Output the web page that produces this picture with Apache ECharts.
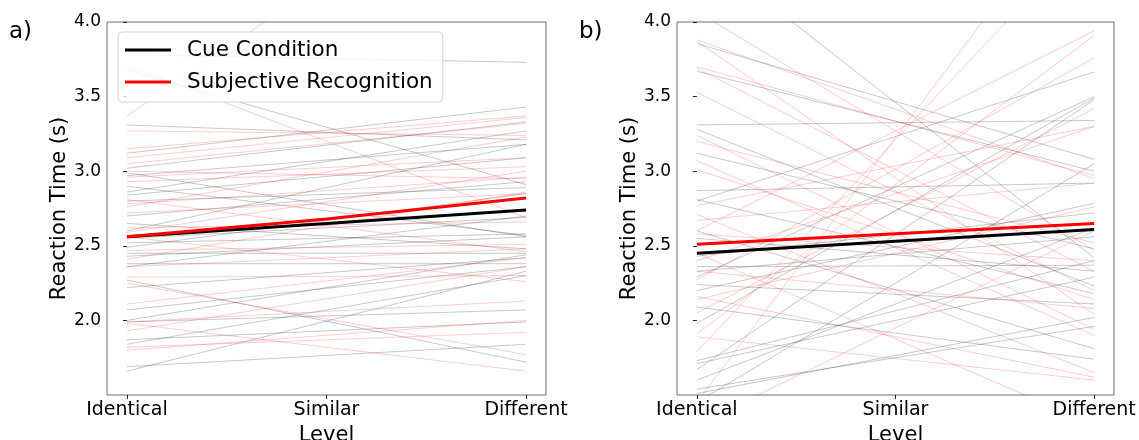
<!DOCTYPE html>
<html>
<head>
<meta charset="utf-8">
<title>Reaction time by level</title>
<script src="https://cdn.jsdelivr.net/npm/echarts@6/dist/echarts.min.js"></script>
<style>
  html, body { margin: 0; padding: 0; background: #fff; }
  #chart { width: 1139px; height: 440px; }
</style>
</head>
<body>
<div id="chart"></div>
<script>
const levels = ['Identical', 'Similar', 'Different']
const levelPos = [0, 1, 2]
const yTicks = [2.0, 2.5, 3.0, 3.5, 4.0]

// per-subject fitted lines, [Identical, Different]
const cueA = [
  [3.78, 3.73], [3.68, 2.91], [3.31, 3.21], [3.12, 3.43], [3.02, 3.33], [2.99, 2.56],
  [2.97, 3.18], [2.86, 3.27], [2.84, 3.09], [2.80, 2.89], [2.70, 2.93], [2.65, 2.48],
  [2.60, 3.18], [2.55, 2.69], [2.52, 2.58], [2.49, 2.85], [2.45, 2.45], [2.43, 2.56],
  [2.38, 2.38], [2.36, 2.70], [2.27, 1.72], [2.22, 2.42], [2.07, 2.36], [2.00, 2.44],
  [1.99, 2.07], [1.87, 1.99], [1.84, 2.30], [1.69, 1.84], [1.66, 2.33], [2.90, 2.57]
]
const subjA = [
  [3.37, 5.20], [3.71, 2.69], [3.27, 3.24], [3.15, 3.37], [3.09, 3.36], [3.05, 3.32],
  [3.00, 2.95], [2.96, 3.09], [2.93, 3.03], [2.81, 2.46], [2.78, 2.96], [2.76, 3.23],
  [2.72, 2.85], [2.62, 2.66], [2.59, 3.00], [2.56, 2.26], [2.47, 2.51], [2.41, 2.86],
  [2.36, 2.48], [2.29, 2.30], [2.25, 1.77], [2.11, 2.42], [1.99, 2.13], [1.98, 1.66],
  [1.93, 2.36], [1.82, 1.92], [1.80, 2.00]
]
const cueB = [
  [4.50, 2.42], [3.855, 3.08], [3.67, 3.00], [3.31, 3.34], [3.28, 2.23], [3.12, 2.48],
  [2.87, 2.92], [2.81, 2.18], [2.80, 3.665], [2.60, 1.81], [2.55, 2.33], [2.43, 2.72],
  [2.36, 2.37], [2.33, 2.56], [2.29, 3.50], [2.24, 2.11], [2.20, 2.785], [2.09, 1.74],
  [1.98, 3.49], [1.73, 2.40], [1.71, 2.29], [1.67, 3.48], [1.60, 2.62], [1.54, 1.96],
  [1.51, 2.02], [1.45, 3.05]
]
const subjB = [
  [4.07, 2.47], [3.88, 2.95], [3.87, 2.04], [3.70, 2.97], [3.69, 2.33], [3.53, 2.20],
  [3.24, 1.94], [3.20, 2.52], [3.07, 1.90], [3.01, 2.14], [2.77, 3.30], [2.71, 1.65],
  [2.67, 2.92], [2.60, 3.94], [2.58, 2.40], [2.45, 1.30], [2.40, 3.30], [2.33, 2.08],
  [2.27, 3.76], [2.16, 1.62], [2.14, 2.76], [2.05, 3.42], [1.91, 3.91], [1.89, 1.60],
  [1.79, 4.63], [1.45, 5.00], [1.30, 2.60]
]

// group means at the three levels
const cueMeanA = [2.56, 2.65, 2.74]
const subjMeanA = [2.56, 2.68, 2.82]
const cueMeanB = [2.45, 2.53, 2.61]
const subjMeanB = [2.51, 2.58, 2.65]

const font = 'DejaVu Sans'
const gray = 'rgba(0,0,0,0.22)'
const pink = 'rgba(255,0,0,0.2)'

function subjectLines (list, color, idx) {
  return list.map(function (d) {
    return {
      type: 'line',
      xAxisIndex: idx,
      yAxisIndex: idx,
      data: [[levelPos[0], d[0]], [levelPos[2], d[1]]],
      symbol: 'none',
      silent: true,
      z: 1,
      lineStyle: { color: color, width: 1 }
    }
  })
}

function meanLine (name, vals, color, idx, z) {
  return {
    name: name,
    type: 'line',
    xAxisIndex: idx,
    yAxisIndex: idx,
    data: vals.map(function (v, i) { return [levelPos[i], v] }),
    symbol: 'none',
    silent: true,
    z: z,
    itemStyle: { color: color },
    lineStyle: { color: color, width: 3 }
  }
}

function grid (left, width) {
  return {
    left: left, top: 22, width: width, height: 373,
    outerBoundsMode: 'none',
    show: true, borderColor: '#6f6f6f', borderWidth: 1
  }
}

function xAxis (idx) {
  return {
    type: 'value',
    gridIndex: idx,
    min: -0.1,
    max: 2.1,
    name: 'Level',
    nameLocation: 'middle',
    nameGap: 21,
    nameTextStyle: { fontSize: 21, fontFamily: font, color: '#000' },
    axisLine: { show: false },
    splitLine: { show: false },
    axisTick: { customValues: levelPos, length: 4, lineStyle: { color: '#222' } },
    axisLabel: {
      customValues: levelPos,
      formatter: function (v) { return levels[v] },
      fontSize: 19, fontFamily: font, color: '#000', margin: 6
    }
  }
}

function yAxis (idx) {
  return {
    type: 'value',
    gridIndex: idx,
    min: 1.5,
    max: 4.0,
    name: 'Reaction Time (s)',
    nameLocation: 'middle',
    nameGap: 36,
    nameTextStyle: { fontSize: 21, fontFamily: font, color: '#000' },
    axisLine: { show: false },
    splitLine: { show: false },
    axisTick: { customValues: yTicks, length: 4, lineStyle: { color: '#222' } },
    axisLabel: {
      customValues: yTicks,
      formatter: function (v) { return v.toFixed(1) },
      fontSize: 17, fontFamily: font, color: '#000', margin: 6
    }
  }
}

const option = {
  animation: false,
  grid: [grid(107, 439), grid(677, 437)],
  xAxis: [xAxis(0), xAxis(1)],
  yAxis: [yAxis(0), yAxis(1)],
  legend: {
    data: ['Cue Condition', 'Subjective Recognition'],
    orient: 'vertical',
    left: 118,
    top: 32,
    icon: 'rect',
    itemWidth: 46,
    itemHeight: 3,
    itemGap: 10,
    padding: [7, 10, 9, 7],
    backgroundColor: 'rgba(255,255,255,0.8)',
    borderColor: '#d5d5d5',
    borderWidth: 1,
    borderRadius: 4,
    selectedMode: false,
    textStyle: { fontSize: 21.5, fontFamily: font, color: '#000', padding: [0, 0, 0, 11] }
  },
  graphic: [
    { type: 'text', left: 9, top: 21, style: { text: 'a)', fontSize: 23, fontFamily: font, fill: '#000' } },
    { type: 'text', left: 579, top: 21, style: { text: 'b)', fontSize: 23, fontFamily: font, fill: '#000' } }
  ],
  series: [].concat(
    subjectLines(cueA, gray, 0),
    subjectLines(subjA, pink, 0),
    subjectLines(cueB, gray, 1),
    subjectLines(subjB, pink, 1),
    [
      meanLine('Cue Condition', cueMeanA, '#000', 0, 5),
      meanLine('Subjective Recognition', subjMeanA, '#ff0000', 0, 6),
      meanLine('Cue Condition', cueMeanB, '#000', 1, 5),
      meanLine('Subjective Recognition', subjMeanB, '#ff0000', 1, 6)
    ]
  )
}

const chart = echarts.init(document.getElementById('chart'))
chart.setOption(option)
</script>
</body>
</html>
